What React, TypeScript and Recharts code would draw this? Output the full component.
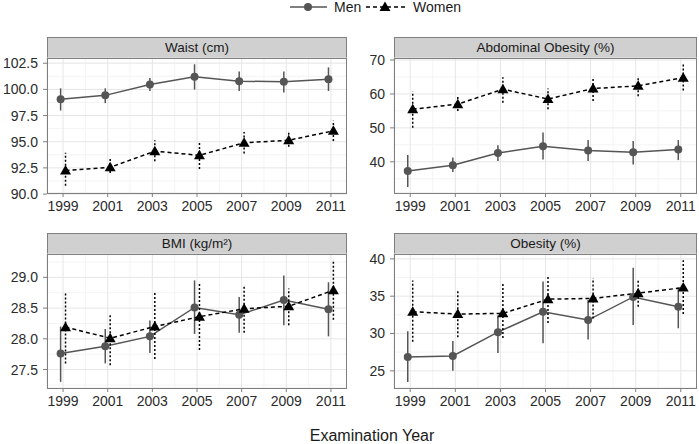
import React from 'react';
import { LineChart, Line, XAxis, YAxis, CartesianGrid, ErrorBar } from 'recharts';

// survey years, men dodged a little to the left, women to the right
const years = [1999, 2001, 2003, 2005, 2007, 2009, 2011];
const minorYears = [2000, 2002, 2004, 2006, 2008, 2010];

const waistMen = [99.05, 99.43, 100.47, 101.21, 100.79, 100.72, 100.98];
const waistMenLo = [97.98, 98.69, 99.85, 99.98, 99.85, 99.7, 99.85];
const waistMenHi = [100.1, 100.1, 101.1, 102.4, 101.7, 101.7, 102.1];
const waistWomen = [92.25, 92.55, 94.1, 93.7, 94.9, 95.14, 96.04];
const waistWomenLo = [90.8, 92.0, 93.13, 92.4, 93.88, 94.52, 95.07];
const waistWomenHi = [93.94, 93.36, 95.14, 94.97, 95.94, 95.98, 97.0];

const abdMen = [37.3, 39.0, 42.6, 44.6, 43.3, 42.8, 43.6];
const abdMenLo = [32.6, 37.0, 40.2, 40.7, 40.2, 39.2, 40.5];
const abdMenHi = [42.0, 41.3, 44.9, 48.6, 46.4, 46.1, 46.4];
const abdWomen = [55.5, 57.0, 61.4, 58.5, 61.6, 62.4, 64.8];
const abdWomenLo = [50.0, 55.0, 57.4, 55.5, 57.9, 59.3, 61.0];
const abdWomenHi = [60.7, 59.2, 64.9, 61.6, 64.9, 65.1, 68.8];

const bmiMen = [27.76, 27.88, 28.04, 28.51, 28.39, 28.63, 28.48];
const bmiMenLo = [27.3, 27.6, 27.77, 28.08, 28.1, 28.22, 28.04];
const bmiMenHi = [28.2, 28.16, 28.3, 28.95, 28.68, 29.03, 28.92];
const bmiWomen = [28.19, 28.01, 28.2, 28.36, 28.49, 28.53, 28.79];
const bmiWomenLo = [27.6, 27.57, 27.67, 27.82, 28.1, 28.22, 28.31];
const bmiWomenHi = [28.77, 28.4, 28.75, 28.92, 28.88, 28.82, 29.28];

const obMen = [26.86, 26.99, 30.18, 32.92, 31.8, 34.9, 33.58];
const obMenLo = [23.5, 25.0, 27.4, 28.7, 29.2, 31.15, 30.7];
const obMenHi = [30.3, 28.98, 32.4, 36.95, 34.5, 38.8, 36.15];
const obWomen = [32.92, 32.6, 32.7, 34.6, 34.7, 35.4, 36.15];
const obWomenLo = [28.9, 29.5, 29.4, 31.4, 32.0, 33.6, 32.6];
const obWomenHi = [37.1, 35.8, 36.7, 37.8, 37.4, 37.1, 39.8];

const DODGE = 0.11;
const AXIS_W = 47;
const AXIS_H = 30;
const PAD_TOP = 10;
const FONT = '"Liberation Sans", Arial, Helvetica, sans-serif';
const MEN_COLOR = '#555555';

const toRows = (vals: number[], lo: number[], hi: number[], shift: number) =>
  years.map((yr, i) => ({ x: yr + shift, y: vals[i], err: [vals[i] - lo[i], hi[i] - vals[i]] }));

const panels = [
  {
    title: 'Waist (cm)',
    men: toRows(waistMen, waistMenLo, waistMenHi, -DODGE),
    women: toRows(waistWomen, waistWomenLo, waistWomenHi, DODGE),
    domain: [90.1, 103.0],
    ticks: [90, 92.5, 95, 97.5, 100, 102.5],
    minor: [91.25, 93.75, 96.25, 98.75, 101.25],
    fmt: (v: number) => v.toFixed(1),
    left: 47, right: 347, stripTop: 37, top: 58, bottom: 193,
  },
  {
    title: 'Abdominal Obesity (%)',
    men: toRows(abdMen, abdMenLo, abdMenHi, -DODGE),
    women: toRows(abdWomen, abdWomenLo, abdWomenHi, DODGE),
    domain: [30.8, 70.6],
    ticks: [40, 50, 60, 70],
    minor: [35, 45, 55, 65],
    fmt: (v: number) => String(v),
    left: 394, right: 697, stripTop: 37, top: 58, bottom: 193,
  },
  {
    title: 'BMI (kg/m²)',
    men: toRows(bmiMen, bmiMenLo, bmiMenHi, -DODGE),
    women: toRows(bmiWomen, bmiWomenLo, bmiWomenHi, DODGE),
    domain: [27.2, 29.38],
    ticks: [27.5, 28, 28.5, 29],
    minor: [27.25, 27.75, 28.25, 28.75, 29.25],
    fmt: (v: number) => v.toFixed(1),
    left: 47, right: 347, stripTop: 233, top: 254, bottom: 388,
  },
  {
    title: 'Obesity (%)',
    men: toRows(obMen, obMenLo, obMenHi, -DODGE),
    women: toRows(obWomen, obWomenLo, obWomenHi, DODGE),
    domain: [22.7, 40.65],
    ticks: [25, 30, 35, 40],
    minor: [27.5, 32.5, 37.5],
    fmt: (v: number) => String(v),
    left: 394, right: 697, stripTop: 233, top: 254, bottom: 388,
  },
];

const Triangle = (props: any) => {
  const { cx, cy, index } = props;
  if (cx == null || cy == null) return <g key={`t-${index}`} />;
  return (
    <polygon
      key={`t-${index}`}
      points={`${cx},${cy - 5.5} ${cx - 5.5},${cy + 4} ${cx + 5.5},${cy + 4}`}
      fill="#000"
    />
  );
};

const tickStyle = { fill: '#2b2b2b', fontSize: 14, fontFamily: FONT };

const Facet = ({ p }: { p: (typeof panels)[number] }) => {
  const plotW = p.right - p.left;
  const plotH = p.bottom - p.top;
  return (
    <>
      <div
        style={{
          position: 'absolute', left: p.left, top: p.stripTop, width: plotW, height: p.top - p.stripTop + 1,
          background: '#D0D0D0', border: '1px solid #7f7f7f', boxSizing: 'border-box',
          fontSize: 13.5, color: '#1a1a1a', textAlign: 'center', lineHeight: `${p.top - p.stripTop - 1}px`,
        }}
      >
        {p.title}
      </div>
      <div style={{ position: 'absolute', left: p.left - AXIS_W, top: p.top - PAD_TOP }}>
        <LineChart
          width={plotW + AXIS_W}
          height={plotH + AXIS_H + PAD_TOP}
          margin={{ top: PAD_TOP, right: 0, bottom: 0, left: 0 }}
        >
          <CartesianGrid stroke="#F4F4F4" horizontalValues={p.minor} verticalValues={minorYears} />
          <CartesianGrid stroke="#E6E6E6" />
          <XAxis
            type="number" dataKey="x" domain={[1998.28, 2011.72]} ticks={years} allowDataOverflow
            axisLine={false} tickSize={4} tickMargin={4} tickLine={{ stroke: '#7f7f7f' }}
            tick={tickStyle} height={AXIS_H} interval={0}
          />
          <YAxis
            type="number" domain={p.domain} ticks={p.ticks} allowDataOverflow tickFormatter={p.fmt}
            axisLine={false} tickSize={4} tickMargin={5} tickLine={{ stroke: '#7f7f7f' }}
            tick={tickStyle} width={AXIS_W} interval={0}
          />
          <Line
            data={p.men} dataKey="y" type="linear" stroke={MEN_COLOR} strokeWidth={1.5}
            dot={{ r: 4, fill: MEN_COLOR, stroke: 'none' }} isAnimationActive={false}
          >
            <ErrorBar dataKey="err" direction="y" width={0} stroke={MEN_COLOR} strokeWidth={1.5} isAnimationActive={false} />
          </Line>
          <Line
            data={p.women} dataKey="y" type="linear" stroke="#000" strokeWidth={1.5} strokeDasharray="4 3"
            dot={Triangle} isAnimationActive={false}
          >
            <ErrorBar dataKey="err" direction="y" width={0} stroke="#000" strokeWidth={1.5} strokeDasharray="2 2" isAnimationActive={false} />
          </Line>
        </LineChart>
      </div>
      <div
        style={{
          position: 'absolute', left: p.left, top: p.top, width: plotW, height: plotH + 1,
          border: '1px solid #7f7f7f', boxSizing: 'border-box', pointerEvents: 'none',
        }}
      />
    </>
  );
};

export default function App() {
  return (
    <div style={{ position: 'relative', width: 699, height: 444, background: '#fff', fontFamily: FONT, overflow: 'hidden' }}>
      <style>{'body{margin:0}'}</style>
      <svg width={699} height={20} style={{ position: 'absolute', left: 0, top: 0 }}>
        <line x1={290} y1={7} x2={327} y2={7} stroke={MEN_COLOR} strokeWidth={1.5} />
        <circle cx={308} cy={7} r={4} fill={MEN_COLOR} />
        <text x={334} y={12} fontSize={14} fill="#1a1a1a" fontFamily={FONT}>Men</text>
        <line x1={366} y1={7} x2={405} y2={7} stroke="#000" strokeWidth={1.5} strokeDasharray="4 3" />
        <polygon points="385,1.5 379.5,11 390.5,11" fill="#000" />
        <text x={413} y={12} fontSize={14} fill="#1a1a1a" fontFamily={FONT}>Women</text>
      </svg>
      {panels.map((p) => (
        <Facet key={p.title} p={p} />
      ))}
      <div style={{ position: 'absolute', left: 47, width: 650, top: 427, textAlign: 'center', fontSize: 16, color: '#1a1a1a' }}>
        Examination Year
      </div>
    </div>
  );
}
